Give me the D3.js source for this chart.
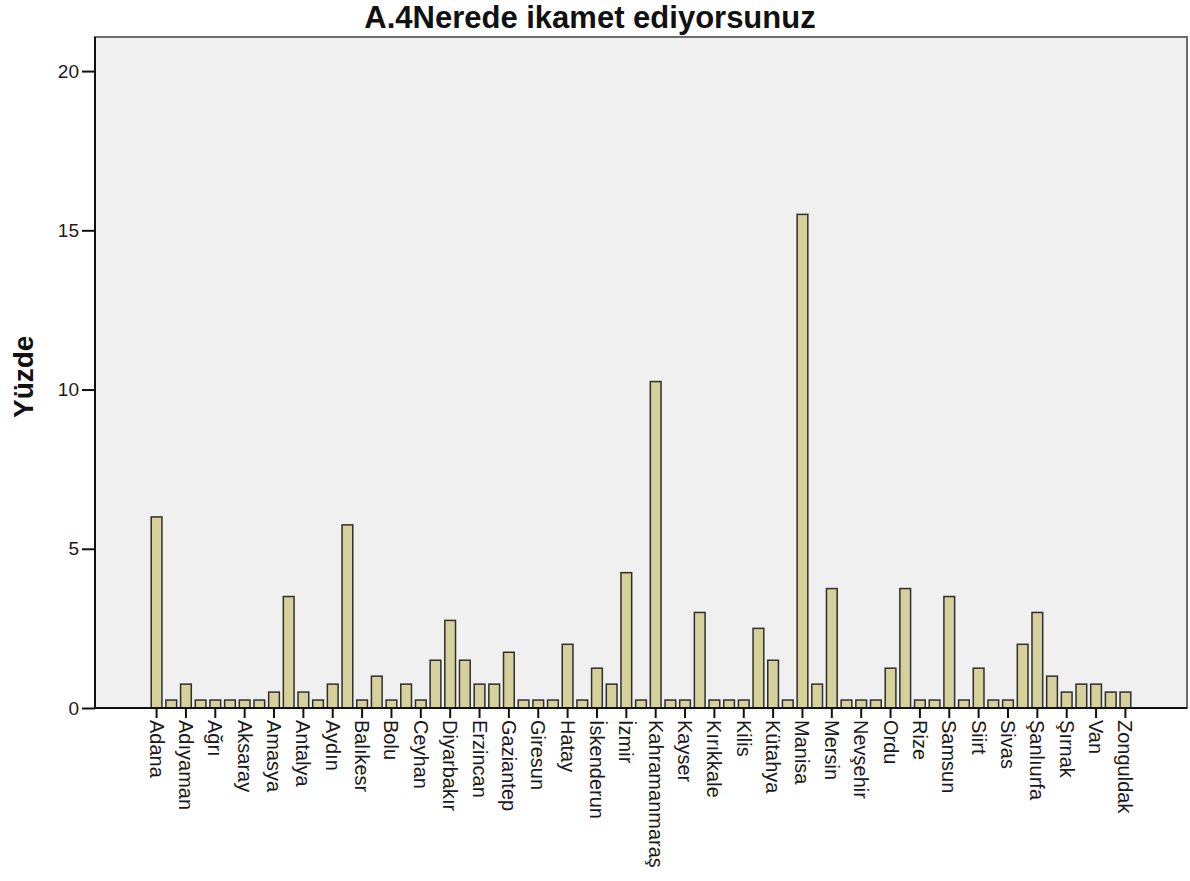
<!DOCTYPE html>
<html>
<head>
<meta charset="utf-8">
<script src="https://cdn.jsdelivr.net/npm/d3@7"></script>
<style>
body { margin: 0; background: #fff; }
text { font-family: Arial, "Liberation Sans", sans-serif; }
</style>
</head>
<body>
<div id="chart"></div>
<script>
var chartTitle = 'A.4Nerede ikamet ediyorsunuz';
var yTitle = 'Yüzde';

// every second category carries a label in the original, the others are unlabeled
var cities = [
    'Adana', 'Adapazarı', 'Adıyaman', 'Afyon', 'Ağrı', 'Akhisar', 'Aksaray', 'Alanya',
    'Amasya', 'Ankara', 'Antalya', 'Artvin', 'Aydın', 'Bafra', 'Balıkesr', 'Bitlis',
    'Bolu', 'Bursa', 'Ceyhan', 'Çorum', 'Diyarbakır', 'Elazığ', 'Erzincan', 'Eskişehir',
    'Gaziantep', 'Gemlik', 'Giresun', 'Gümüşhane', 'Hatay', 'Isparta', 'İskenderun', 'İstanbul',
    'İzmir', 'Kadirli', 'Kahramanmaraş', 'Karaman', 'Kayser', 'Kırıkhan', 'Kırıkkale', 'Kırşehir',
    'Kilis', 'Konya', 'Kütahya', 'Malatya', 'Manisa', 'Mardin', 'Mersin', 'Muğla',
    'Nevşehir', 'Niğde', 'Ordu', 'Osmaniye', 'Rize', 'Sakarya', 'Samsun', 'Seydişehir',
    'Siirt', 'Sinop', 'Sivas', 'Söke', 'Şanlıurfa', 'Şarkışla', 'Şırnak', 'Tokat',
    'Van', 'Yozgat', 'Zonguldak'
];

var percents = [
    6, 0.25, 0.75, 0.25, 0.25, 0.25, 0.25, 0.25,
    0.5, 3.5, 0.5, 0.25, 0.75, 5.75, 0.25, 1,
    0.25, 0.75, 0.25, 1.5, 2.75, 1.5, 0.75, 0.75,
    1.75, 0.25, 0.25, 0.25, 2, 0.25, 1.25, 0.75,
    4.25, 0.25, 10.25, 0.25, 0.25, 3, 0.25, 0.25,
    0.25, 2.5, 1.5, 0.25, 15.5, 0.75, 3.75, 0.25,
    0.25, 0.25, 1.25, 3.75, 0.25, 0.25, 3.5, 0.25,
    1.25, 0.25, 0.25, 2, 3, 1, 0.5, 0.75,
    0.75, 0.5, 0.5
];

var yTicks = [0, 5, 10, 15, 20];
var yMax = 21.07;

var W = 1190, H = 881;
var pad = { left: 95, top: 37, right: 3, bottom: 173 };
var w = W - pad.left - pad.right;
var h = H - pad.top - pad.bottom;

var svg = d3.select('#chart').append('svg')
    .attr('width', W)
    .attr('height', H);

var x = d3.scaleBand()
    .domain(cities)
    .range([0, w])
    .paddingInner(0.27)
    .paddingOuter(3.83);

var y = d3.scaleLinear()
    .domain([0, yMax])
    .range([h, 0]);

var g = svg.append('g')
    .attr('transform', 'translate(' + pad.left + ',' + pad.top + ')');

// plot background + frame
g.append('rect')
    .attr('width', w)
    .attr('height', h)
    .attr('fill', '#f0f0f0')
    .attr('stroke', '#6b6b6b')
    .attr('stroke-width', 2);

g.selectAll('rect.bar')
    .data(percents)
    .enter().append('rect')
    .attr('class', 'bar')
    .attr('x', function (d, i) { return x(cities[i]); })
    .attr('y', function (d) { return y(d); })
    .attr('width', x.bandwidth())
    .attr('height', function (d) { return h - y(d); })
    .attr('fill', '#d6d19b')
    .attr('stroke', '#2e2e2e')
    .attr('stroke-width', 1.5);

var yAxis = g.append('g')
    .call(d3.axisLeft(y).tickValues(yTicks).tickSize(13).tickPadding(3).tickFormat(d3.format('d')));

var xAxis = g.append('g')
    .attr('transform', 'translate(0,' + h + ')')
    .call(d3.axisBottom(x)
        .tickValues(cities.filter(function (d, i) { return i % 2 === 0; }))
        .tickSize(10)
        .tickSizeOuter(0));

[yAxis, xAxis].forEach(function (ax) {
    ax.select('.domain').attr('stroke', '#111').attr('stroke-width', 2);
    ax.selectAll('.tick line').attr('stroke', '#111').attr('stroke-width', 2);
    ax.selectAll('.tick text')
        .attr('fill', '#1a1a1a')
        .style('font-size', '19px');
});

yAxis.select('.domain').attr('d', 'M0,' + h + 'V0');
xAxis.select('.domain').attr('d', 'M0,0H' + w);

xAxis.selectAll('.tick text')
    .style('font-size', '20px')
    .attr('transform', 'rotate(90)')
    .attr('x', 12)
    .attr('y', 0)
    .attr('dy', '0.35em')
    .attr('text-anchor', 'start');

svg.append('text')
    .attr('x', 590)
    .attr('y', 28)
    .attr('text-anchor', 'middle')
    .style('font-size', '31px')
    .style('font-weight', 'bold')
    .attr('fill', '#111')
    .text(chartTitle);

svg.append('text')
    .attr('transform', 'translate(33,' + (pad.top + y(10.4)) + ') rotate(-90)')
    .attr('text-anchor', 'middle')
    .style('font-size', '28px')
    .style('font-weight', 'bold')
    .attr('fill', '#111')
    .text(yTitle);
</script>
</body>
</html>
